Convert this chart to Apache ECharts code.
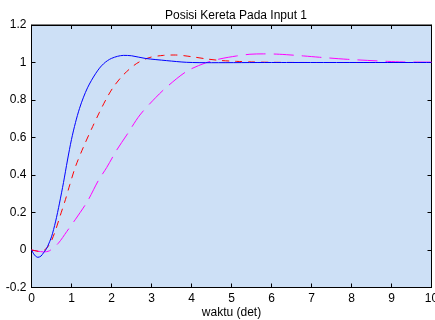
<!DOCTYPE html>
<html>
<head>
<meta charset="utf-8">
<script src="https://cdn.jsdelivr.net/npm/echarts@6/dist/echarts.min.js"></script>
<style>
  html, body { margin: 0; padding: 0; background: #fff; }
  #chart { width: 435px; height: 320px; }
</style>
</head>
<body>
<div id="chart"></div>
<script>
const xTicks = [0, 1, 2, 3, 4, 5, 6, 7, 8, 9, 10];
const yTicks = [-0.2, 0, 0.2, 0.4, 0.6, 0.8, 1, 1.2];

// blue, solid
const blueT = [0, 0.08, 0.16, 0.24, 0.3, 0.36, 0.4, 0.5, 0.6, 0.7, 0.8, 0.9, 1.0, 1.1, 1.2, 1.3, 1.4, 1.5, 1.6, 1.7, 1.8, 1.9, 2.0, 2.15, 2.3, 2.5, 2.84, 3.38, 3.88, 4.5, 6, 10];
const blueV = [0, -0.028, -0.039, -0.032, -0.015, 0.002, 0.018, 0.07, 0.15, 0.25, 0.36, 0.48, 0.59, 0.68, 0.755, 0.815, 0.865, 0.905, 0.94, 0.97, 0.993, 1.01, 1.022, 1.033, 1.038, 1.036, 1.022, 1.01, 1.001, 0.999, 1.0, 1.0];

// red, dashed
const redT = [0, 0.1, 0.2, 0.3, 0.4, 0.5, 0.6, 0.71, 0.85, 0.96, 1.1, 1.3, 1.5, 1.7, 1.88, 2.05, 2.3, 2.63, 2.96, 3.3, 3.6, 4.0, 4.38, 4.71, 5.13, 5.5, 6.0, 7, 10];
const redV = [0, -0.004, -0.008, -0.004, 0.015, 0.05, 0.105, 0.178, 0.27, 0.35, 0.445, 0.55, 0.645, 0.735, 0.81, 0.87, 0.935, 0.995, 1.027, 1.038, 1.04, 1.031, 1.019, 1.011, 1.006, 1.003, 1.001, 1.0, 1.0];

// magenta, dash-dot
const magT = [0, 0.15, 0.3, 0.45, 0.67, 0.88, 1.1, 1.4, 1.67, 1.88, 2.13, 2.38, 2.71, 3.11, 3.4, 3.88, 4.34, 4.71, 5.13, 5.46, 5.8, 6.2, 6.8, 7.2, 7.9, 8.9, 9.3, 10];
const magV = [0, -0.006, -0.01, -0.004, 0.036, 0.098, 0.164, 0.26, 0.37, 0.44, 0.533, 0.613, 0.72, 0.814, 0.873, 0.953, 0.997, 1.019, 1.035, 1.044, 1.046, 1.044, 1.035, 1.028, 1.017, 1.006, 1.003, 1.002];

const pairs = (t, v) => t.map((x, i) => [x, v[i]]);

const chart = echarts.init(document.getElementById('chart'), null, { renderer: 'canvas' });
const font = 'Liberation Sans, Arial, sans-serif';
const axisLine = { show: true, onZero: false, lineStyle: { color: '#000', width: 1 } };
const tick = { show: true, inside: true, length: 4, lineStyle: { color: '#000' } };

chart.setOption({
  animation: false,
  backgroundColor: '#fff',
  title: {
    text: 'Posisi Kereta Pada Input 1',
    left: 231, top: 5, textAlign: 'center',
    textStyle: { fontFamily: font, fontSize: 12, fontWeight: 'normal', color: '#000' }
  },
  grid: {
    left: 31.5, right: 3.5, top: 25, bottom: 32.5,
    outerBoundsMode: 'none',
    show: true, backgroundColor: '#cde0f6', borderColor: '#000', borderWidth: 1
  },
  xAxis: [
    {
      type: 'value', min: 0, max: 10, interval: 1,
      name: 'waktu (det)', nameLocation: 'middle', nameGap: 19, nameMoveOverlap: false,
      nameTextStyle: { fontFamily: font, fontSize: 12, color: '#000' },
      axisLine, axisTick: tick,
      axisLabel: { fontFamily: font, fontSize: 12, color: '#000', margin: 5,
        formatter: v => xTicks.includes(v) ? String(v) : '' },
      splitLine: { show: false }
    },
    {
      type: 'value', min: 0, max: 10, interval: 1, position: 'top',
      axisLine, axisTick: tick, axisLabel: { show: false }, splitLine: { show: false }
    }
  ],
  yAxis: [
    {
      type: 'value', min: -0.2, max: 1.2, interval: 0.2,
      axisLine, axisTick: tick,
      axisLabel: { fontFamily: font, fontSize: 12, color: '#000', margin: 5,
        formatter: v => { const r = Math.round(v * 10) / 10; return yTicks.includes(r) ? String(r) : ''; } },
      splitLine: { show: false }
    },
    {
      type: 'value', min: -0.2, max: 1.2, interval: 0.2, position: 'right',
      axisLine, axisTick: tick, axisLabel: { show: false }, splitLine: { show: false }
    }
  ],
  series: [
    {
      type: 'line', data: pairs(magT, magV), smooth: 0.3, showSymbol: false,
      lineStyle: { color: '#ff00ff', width: 1, type: [20, 8] }
    },
    {
      type: 'line', data: pairs(redT, redV), smooth: 0.3, showSymbol: false,
      lineStyle: { color: '#ff0000', width: 1, type: [7, 6] }
    },
    {
      type: 'line', data: pairs(blueT, blueV), smooth: 0.3, showSymbol: false,
      lineStyle: { color: '#0000ff', width: 1 }
    }
  ]
});
</script>
</body>
</html>
